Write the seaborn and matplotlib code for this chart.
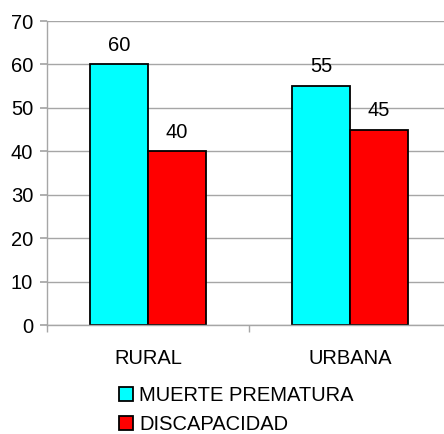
import numpy as np
import pandas as pd
import seaborn as sns
import matplotlib.pyplot as plt
from matplotlib.ticker import FixedLocator

# Datos
zonas = ['RURAL', 'URBANA']
series = ['MUERTE PREMATURA', 'DISCAPACIDAD']
muerte_prematura = [60, 55]
discapacidad = [40, 45]
colores = ['#00FFFF', '#FF0000']

df = pd.DataFrame({
    'Zona': zonas * 2,
    'Serie': [series[0]] * 2 + [series[1]] * 2,
    'Valor': muerte_prematura + discapacidad,
})

sns.set_theme(style="white")
plt.rcParams['font.family'] = ['Liberation Sans', 'DejaVu Sans']
plt.rcParams['text.color'] = 'black'
plt.rcParams['xtick.color'] = 'black'
plt.rcParams['ytick.color'] = 'black'

fig = plt.figure(figsize=(4.44, 4.34), dpi=100)
ax = fig.add_axes([0.106, 0.251, 0.894, 0.7005])

sns.barplot(data=df, x='Zona', y='Valor', hue='Serie', palette=colores,
            width=0.575, edgecolor='black', linewidth=1.3, saturation=1,
            ax=ax, legend=True)

for cont in ax.containers:
    ax.bar_label(cont, fontsize=14.5, padding=7, color='black')

ax.set_ylim(0, 70)
ax.set_xlim(-0.5, 1.465)
ax.set_yticks(range(0, 71, 10))
ax.yaxis.grid(True, color='#a6a6a6', linewidth=1)
ax.set_axisbelow(True)
ax.set_xlabel('')
ax.set_ylabel('')

for s in ['top', 'right']:
    ax.spines[s].set_visible(False)
for s in ['left', 'bottom']:
    ax.spines[s].set_color('#a6a6a6')
    ax.spines[s].set_linewidth(1)

ax.tick_params(axis='y', which='major', length=5, color='#a6a6a6', labelcolor='black',
               labelsize=14.5, pad=5, left=True)
ax.tick_params(axis='x', which='major', length=0, labelcolor='black', labelsize=14.5, pad=17)
ax.xaxis.set_minor_locator(FixedLocator([-0.5, 0.5]))
ax.tick_params(axis='x', which='minor', length=5, color='#a6a6a6', bottom=True)

handles, labels = ax.get_legend_handles_labels()
ax.legend_.remove()
fig.legend(handles, labels, loc='lower left', bbox_to_anchor=(0.228, -0.041),
           frameon=False, fontsize=14.5, handlelength=0.7, handleheight=0.7,
           handletextpad=0.3, labelspacing=0.48)

fig.savefig('out.png', dpi=100)
